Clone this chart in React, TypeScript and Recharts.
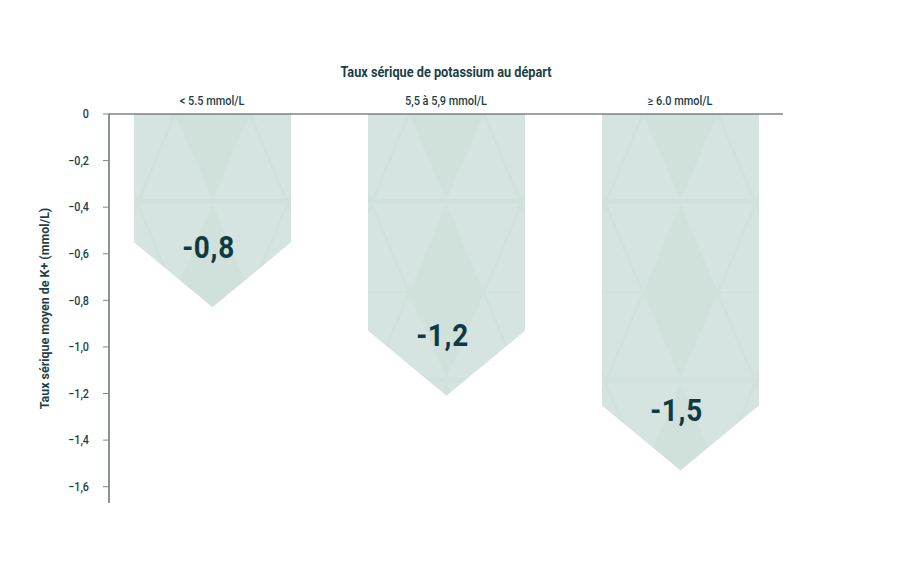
import React from "react";
import { BarChart, Bar, XAxis, YAxis, Label } from "recharts";

const categories = ["< 5.5 mmol/L", "5,5 à 5,9 mmol/L", "≥ 6.0 mmol/L"];
const values = [-0.83, -1.21, -1.53];
const yTicks = [0, -0.2, -0.4, -0.6, -0.8, -1.0, -1.2, -1.4, -1.6];

const data = categories.map((c, i) => ({ category: c, value: values[i] }));

const FONT = "Roboto, 'Noto Sans', sans-serif";
const TEXT = "#1d3f47";
const LABEL = "#0e3a44";
const BASE = "#d5e4e0";
const DARK = "#d0e0db";
const LINE = "#d0e0da";

const fmtTick = (v: number) =>
  v === 0 ? "0" : "\u2212" + Math.abs(v).toFixed(1).replace(".", ",");
const fmtLabel = (v: number) => v.toFixed(1).replace(".", ",");

const CText = (p: any) => {
  const { x, y, sx = 0.9, rotate = 0, children, ...rest } = p;
  return (
    <text
      x={0}
      y={0}
      transform={`translate(${x},${y}) rotate(${rotate}) scale(${sx},1)`}
      fontFamily={FONT}
      {...rest}
    >
      {children}
    </text>
  );
};

const ArrowBar = (props: any) => {
  const { x, y, width, height, index, value } = props;
  const top = Math.min(y, y + height);
  const bottom = Math.max(y, y + height);
  const cx = x + width / 2;
  const depth = 65;
  const shoulder = bottom - depth;
  const id = `tri-${index}`;
  const tw = 150;
  const rh = 89.5;
  const th = rh * 2;
  const path = `M${x},${top} L${x + width},${top} L${x + width},${shoulder} L${cx},${bottom} L${x},${shoulder} Z`;
  const v = Array.isArray(value) ? value[1] : value;
  return (
    <g>
      <defs>
        <pattern
          id={id}
          patternUnits="userSpaceOnUse"
          x={cx - tw / 2}
          y={top}
          width={tw}
          height={th}
        >
          <rect x={0} y={0} width={tw} height={th} fill={BASE} />
          <polygon points={`37.5,0 112.5,0 75,${rh - 4}`} fill={DARK} />
          <polygon points={`75,${rh} 37.5,${th} 112.5,${th}`} fill={DARK} />
          <g stroke={LINE} strokeWidth={3} fill="none">
            <line x1={37.5} y1={0} x2={0} y2={rh} />
            <line x1={112.5} y1={0} x2={150} y2={rh} />
            <line x1={0} y1={rh} x2={37.5} y2={th} />
            <line x1={150} y1={rh} x2={112.5} y2={th} />
          </g>
          <rect x={0} y={rh - 4.5} width={tw} height={4.5} fill={LINE} />
          <rect x={0} y={th - 1} width={tw} height={1} fill={LINE} />
        </pattern>
      </defs>
      <path d={path} fill={`url(#${id})`} />
      <CText
        x={cx - 4}
        y={shoulder + 15.5}
        sx={0.9}
        textAnchor="middle"
        fill={LABEL}
        fontWeight={700}
        fontSize={31}
        letterSpacing={0.8}
      >
        {fmtLabel(v)}
      </CText>
    </g>
  );
};

const TopTick = (props: any) => {
  const { x, payload } = props;
  return (
    <CText
      x={x}
      y={105}
      sx={0.89}
      textAnchor="middle"
      fill={TEXT}
      fontSize={12.3}
      fontWeight={500}
    >
      {payload.value}
    </CText>
  );
};

const LeftTick = (props: any) => {
  const { x, y, payload } = props;
  return (
    <CText
      x={x}
      y={y + 4.2}
      sx={0.9}
      textAnchor="end"
      fill={TEXT}
      fontSize={12}
      fontWeight={500}
    >
      {fmtTick(payload.value)}
    </CText>
  );
};

const YTitle = (props: any) => {
  const vb = props.viewBox || {};
  const cy = (vb.y || 0) + (vb.height || 0) / 2;
  const cx = 48.5;
  return (
    <CText
      x={cx}
      y={cy}
      rotate={-90}
      sx={0.92}
      textAnchor="middle"
      fill={TEXT}
      fontWeight={700}
      fontSize={13.5}
    >
      Taux sérique moyen de K+ (mmol/L)
    </CText>
  );
};

const XTitle = (props: any) => {
  const vb = props.viewBox || {};
  const cx = (vb.x || 0) + (vb.width || 0) / 2;
  return (
    <CText
      x={cx}
      y={77}
      sx={0.91}
      textAnchor="middle"
      fill={TEXT}
      fontWeight={700}
      fontSize={14}
    >
      Taux sérique de potassium au départ
    </CText>
  );
};

export default function App() {
  return (
    <div style={{ position: "absolute", left: 0, top: 0, width: 900, height: 581, background: "#fff" }}>
      <BarChart
        width={900}
        height={581}
        data={data}
        margin={{ top: 60, right: 117, bottom: 78, left: 0 }}
      >
        <XAxis
          dataKey="category"
          orientation="top"
          height={54}
          padding={{ left: -14, right: -14 }}
          axisLine={{ stroke: "#3f4b50", strokeWidth: 1.2 }}
          tickLine={false}
          tick={<TopTick />}
          interval={0}
        >
          <Label content={<XTitle />} />
        </XAxis>
        <YAxis
          type="number"
          domain={[-1.67, 0]}
          ticks={yTicks}
          width={109}
          tickSize={6}
          tickMargin={14}
          axisLine={{ stroke: "#3f4b50", strokeWidth: 1.2 }}
          tickLine={{ stroke: "#7f8688" }}
          tick={<LeftTick />}
          allowDataOverflow
        >
          <Label content={<YTitle />} />
        </YAxis>
        <Bar
          dataKey="value"
          barSize={157}
          shape={<ArrowBar />}
          isAnimationActive={false}
        />
      </BarChart>
    </div>
  );
}
